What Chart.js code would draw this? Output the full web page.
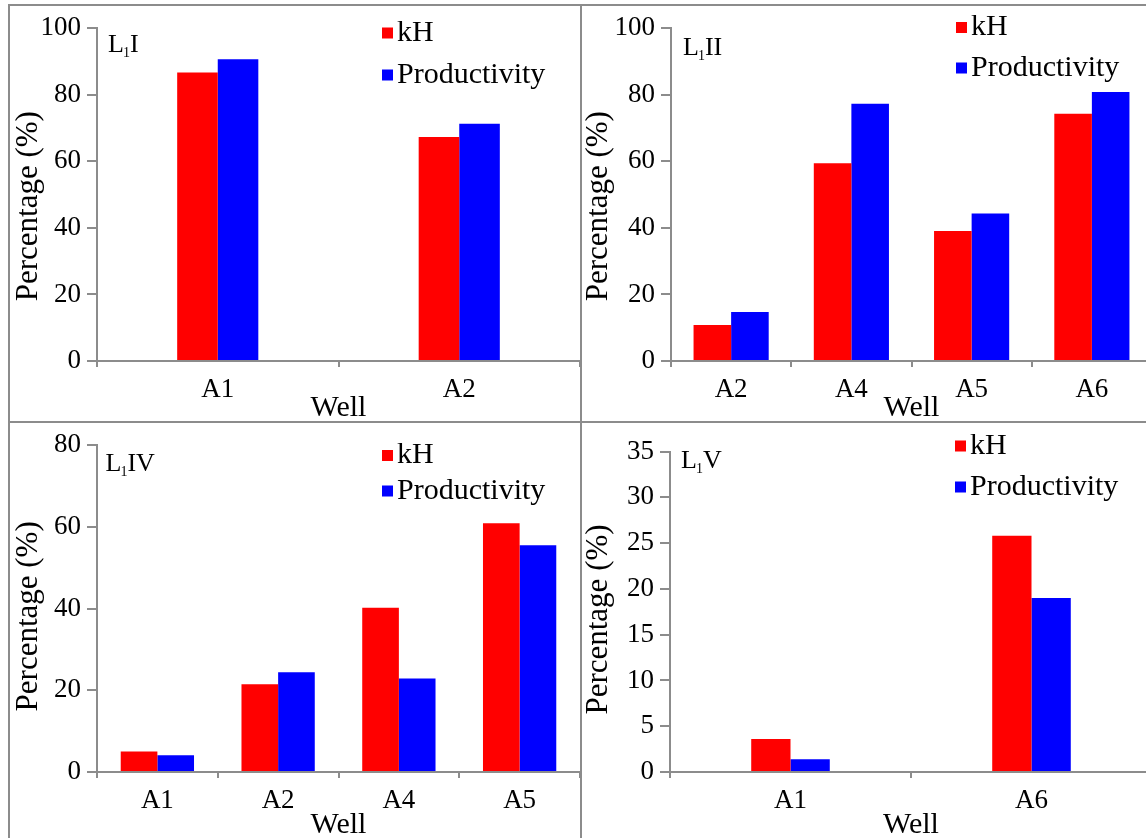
<!DOCTYPE html>
<html>
<head>
<meta charset="utf-8">
<title>kH and productivity by well</title>
<script src="https://cdn.jsdelivr.net/npm/chart.js@4.4.1/dist/chart.umd.min.js"></script>
<style>
  body { margin: 0; background: #fff; width: 1146px; height: 838px; overflow: hidden; position: relative; }
  canvas { position: absolute; }
  .line { position: absolute; background: #8c8c8c; }
</style>
</head>
<body>
<canvas id="c1" width="570" height="415" style="left:10px;top:6px"></canvas>
<canvas id="c2" width="570" height="415" style="left:582px;top:6px"></canvas>
<canvas id="c3" width="570" height="415" style="left:10px;top:423px"></canvas>
<canvas id="c4" width="570" height="415" style="left:582px;top:423px"></canvas>

<!-- panel frames -->
<div class="line" style="left:8px;top:4px;width:1138px;height:2px"></div>
<div class="line" style="left:8px;top:4px;width:2px;height:834px"></div>
<div class="line" style="left:580px;top:4px;width:2px;height:834px"></div>
<div class="line" style="left:8px;top:421px;width:1138px;height:2px"></div>

<script>
// data
const wellsL1I = ["A1", "A2"];
const khL1I = [86.7, 67.3];
const prodL1I = [90.7, 71.3];
const ticksL1I = [0, 20, 40, 60, 80, 100];

const wellsL1II = ["A2", "A4", "A5", "A6"];
const khL1II = [10.8, 59.4, 39.1, 74.3];
const prodL1II = [14.7, 77.3, 44.3, 80.8];
const ticksL1II = [0, 20, 40, 60, 80, 100];

const wellsL1IV = ["A1", "A2", "A4", "A5"];
const khL1IV = [5.0, 21.5, 40.2, 60.9];
const prodL1IV = [4.1, 24.4, 22.9, 55.5];
const ticksL1IV = [0, 20, 40, 60, 80];

const wellsL1V = ["A1", "A6"];
const khL1V = [3.6, 25.8];
const prodL1V = [1.4, 19.0];
const ticksL1V = [0, 5, 10, 15, 20, 25, 30, 35];

const AXIS = "#8c8c8c";
const SERIF = '"Liberation Serif", "Times New Roman", serif';
Chart.defaults.font.family = SERIF;
Chart.defaults.color = "#000";

// panel name (L with subscript 1) and the legend drawn inside the plot
const panelText = {
  id: "panelText",
  afterDraw(chart, args, opts) {
    const ctx = chart.ctx;
    const area = chart.chartArea;
    ctx.save();
    ctx.fillStyle = "#000";
    ctx.textBaseline = "alphabetic";
    let x = area.left + opts.nameX;
    ctx.font = "26px " + SERIF;
    ctx.fillText("L", x, opts.nameY);
    x += ctx.measureText("L").width - 1;
    ctx.font = "14px " + SERIF;
    ctx.fillText("1", x, opts.nameY + 5);
    x += ctx.measureText("1").width;
    ctx.font = "26px " + SERIF;
    ctx.fillText(opts.name, x, opts.nameY);

    ctx.font = "30px " + SERIF;
    ctx.textBaseline = "middle";
    chart.data.datasets.forEach((ds, i) => {
      const y = opts.legendY[i];
      ctx.fillStyle = ds.backgroundColor;
      ctx.fillRect(area.left + 285, y - 5.5, 11, 11);
      ctx.fillStyle = "#000";
      ctx.fillText(ds.label, area.left + 300, y);
    });
    ctx.restore();
  }
};

function makeChart(id, wells, kh, prod, yTicks, p) {
  new Chart(document.getElementById(id), {
    type: "bar",
    data: {
      labels: wells,
      datasets: [
        { label: "kH", data: kh, backgroundColor: "#ff0000" },
        { label: "Productivity", data: prod, backgroundColor: "#0000ff" }
      ]
    },
    options: {
      responsive: false,
      animation: false,
      devicePixelRatio: 1,
      datasets: { bar: { categoryPercentage: p.cat, barPercentage: 1 } },
      layout: { padding: { top: p.top, left: 0, right: 0, bottom: 0 } },
      plugins: {
        legend: { display: false },
        tooltip: { enabled: false },
        panelText: { name: p.name, nameX: p.nameX, nameY: p.nameY, legendY: p.legendY }
      },
      scales: {
        x: {
          grid: { offset: true, drawOnChartArea: false, color: AXIS, lineWidth: 2, tickLength: 6 },
          border: { color: AXIS, width: 2 },
          ticks: { font: { size: 27 }, padding: 7, maxRotation: 0, autoSkip: false },
          title: { display: true, text: "Well", font: { size: 30 }, padding: { top: 0, bottom: -5 } },
          afterFit: s => { s.height = p.xh; }
        },
        y: {
          min: yTicks[0],
          max: yTicks[yTicks.length - 1],
          afterBuildTicks: s => { s.ticks = yTicks.map(v => ({ value: v })); },
          grid: { drawOnChartArea: false, color: AXIS, lineWidth: 2, tickLength: 10 },
          border: { color: AXIS, width: 2 },
          ticks: { font: { size: 27 }, padding: 6 },
          title: { display: true, text: "Percentage (%)" + p.shift, font: { size: 31 }, padding: { top: p.yt, bottom: 0 } },
          afterFit: s => { s.width = p.yw; }
        }
      }
    },
    plugins: [panelText]
  });
}

makeChart("c1", wellsL1I, khL1I, prodL1I, ticksL1I,
  { cat: 0.336, top: 20, xh: 60, yw: 87, yt: 0, shift: "   ", name: "I", nameX: 11, nameY: 46, legendY: [27, 69] });
makeChart("c2", wellsL1II, khL1II, prodL1II, ticksL1II,
  { cat: 0.625, top: 20, xh: 60, yw: 89, yt: -2, shift: "   ", name: "II", nameX: 12, nameY: 49, legendY: [21.5, 62] });
makeChart("c3", wellsL1IV, khL1IV, prodL1IV, ticksL1IV,
  { cat: 0.607, top: 20.5, xh: 66, yw: 87, yt: 0, shift: "  ", name: "IV", nameX: 8.5, nameY: 48, legendY: [32.5, 68] });
makeChart("c4", wellsL1V, khL1V, prodL1V, ticksL1V,
  { cat: 0.326, top: 28.5, xh: 66, yw: 88, yt: -2, shift: "  ", name: "V", nameX: 11, nameY: 45, legendY: [23, 64] });
</script>
</body>
</html>
